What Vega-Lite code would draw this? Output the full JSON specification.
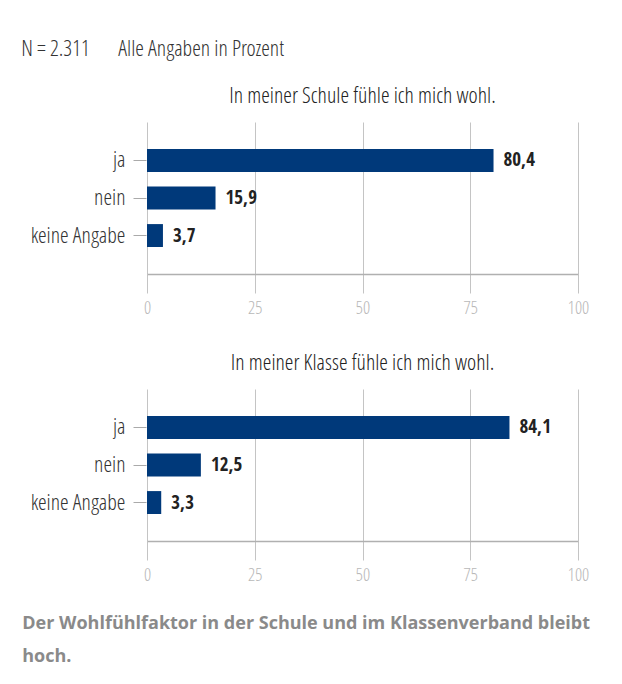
{
  "$schema": "https://vega.github.io/schema/vega-lite/v6.json",
  "padding": {"left": 21, "top": 38, "right": 30, "bottom": 10},
  "background": "white",
  "datasets": {
    "werte": [
      {"frage": "Schule", "antwort": "ja", "prozent": 80.4},
      {"frage": "Schule", "antwort": "nein", "prozent": 15.9},
      {"frage": "Schule", "antwort": "keine Angabe", "prozent": 3.7},
      {"frage": "Klasse", "antwort": "ja", "prozent": 84.1},
      {"frage": "Klasse", "antwort": "nein", "prozent": 12.5},
      {"frage": "Klasse", "antwort": "keine Angabe", "prozent": 3.3}
    ]
  },
  "title": {
    "text": ["Der Wohlfühlfaktor in der Schule und im Klassenverband bleibt", "hoch."],
    "orient": "bottom",
    "anchor": "start",
    "dx": 1,
    "font": "Open Sans",
    "fontSize": 18,
    "fontWeight": "bold",
    "color": "#8a8a8a",
    "lineHeight": 33,
    "offset": 31
  },
  "vconcat": [
    {
      "title": {
        "text": "N = 2.311\u00a0\u00a0\u00a0\u00a0\u00a0Alle Angaben in Prozent",
        "anchor": "start",
        "dx": -9,
        "font": "Open Sans Condensed Light",
        "fontSize": 22,
        "fontWeight": "normal",
        "color": "#333333",
        "offset": 24
      },
      "spacing": 35,
      "vconcat": [
        {
          "title": {"text": "In meiner Schule fühle ich mich wohl."},
          "width": 431,
          "height": 152,
          "data": {"name": "werte"},
          "transform": [{"filter": "datum.frage === 'Schule'"}],
          "encoding": {
            "y": {"field": "antwort", "type": "nominal", "sort": ["ja", "nein", "keine Angabe"], "title": null,
                  "scale": {"paddingInner": 0.39, "paddingOuter": 0.72}},
            "x": {"field": "prozent", "type": "quantitative", "title": null,
                  "scale": {"domain": [0, 100], "nice": false},
                  "axis": {"values": [0, 25, 50, 75, 100]}}
          },
          "layer": [
            {"mark": {"type": "bar", "color": "#00397a"}},
            {"mark": {"type": "text", "align": "left", "dx": 10, "font": "Open Sans Condensed", "fontWeight": "bold", "fontSize": 19, "color": "#222222"},
             "encoding": {"text": {"field": "prozent", "type": "quantitative", "format": ".1f"}}}
          ]
        },
        {
          "title": {"text": "In meiner Klasse fühle ich mich wohl."},
          "width": 431,
          "height": 152,
          "data": {"name": "werte"},
          "transform": [{"filter": "datum.frage === 'Klasse'"}],
          "encoding": {
            "y": {"field": "antwort", "type": "nominal", "sort": ["ja", "nein", "keine Angabe"], "title": null,
                  "scale": {"paddingInner": 0.39, "paddingOuter": 0.72}},
            "x": {"field": "prozent", "type": "quantitative", "title": null,
                  "scale": {"domain": [0, 100], "nice": false},
                  "axis": {"values": [0, 25, 50, 75, 100]}}
          },
          "layer": [
            {"mark": {"type": "bar", "color": "#00397a"}},
            {"mark": {"type": "text", "align": "left", "dx": 10, "font": "Open Sans Condensed", "fontWeight": "bold", "fontSize": 19, "color": "#222222"},
             "encoding": {"text": {"field": "prozent", "type": "quantitative", "format": ".1f"}}}
          ]
        }
      ]
    }
  ],
  "config": {
    "locale": {"number": {"decimal": ",", "thousands": ".", "grouping": [3], "currency": ["", " €"]}},
    "view": {"stroke": null},
    "title": {
      "font": "Open Sans Condensed Light",
      "fontSize": 22,
      "fontWeight": "normal",
      "color": "#222222",
      "anchor": "middle",
      "offset": 14
    },
    "axisX": {
      "grid": true,
      "gridColor": "#c4c4c4",
      "domainColor": "#b0b0b0",
      "domainWidth": 1.5,
      "tickColor": "#c4c4c4",
      "tickSize": 19,
      "labelFont": "Open Sans Condensed Light",
      "labelFontSize": 18,
      "labelColor": "#b8b8b8",
      "labelPadding": 6,
      "labelFlush": false
    },
    "axisY": {
      "domain": false,
      "grid": false,
      "ticks": true,
      "tickSize": 13,
      "tickColor": "#aaaaaa",
      "offset": 1,
      "labelFont": "Open Sans Condensed Light",
      "labelFontSize": 22,
      "labelColor": "#333333",
      "labelPadding": 8
    }
  }
}
